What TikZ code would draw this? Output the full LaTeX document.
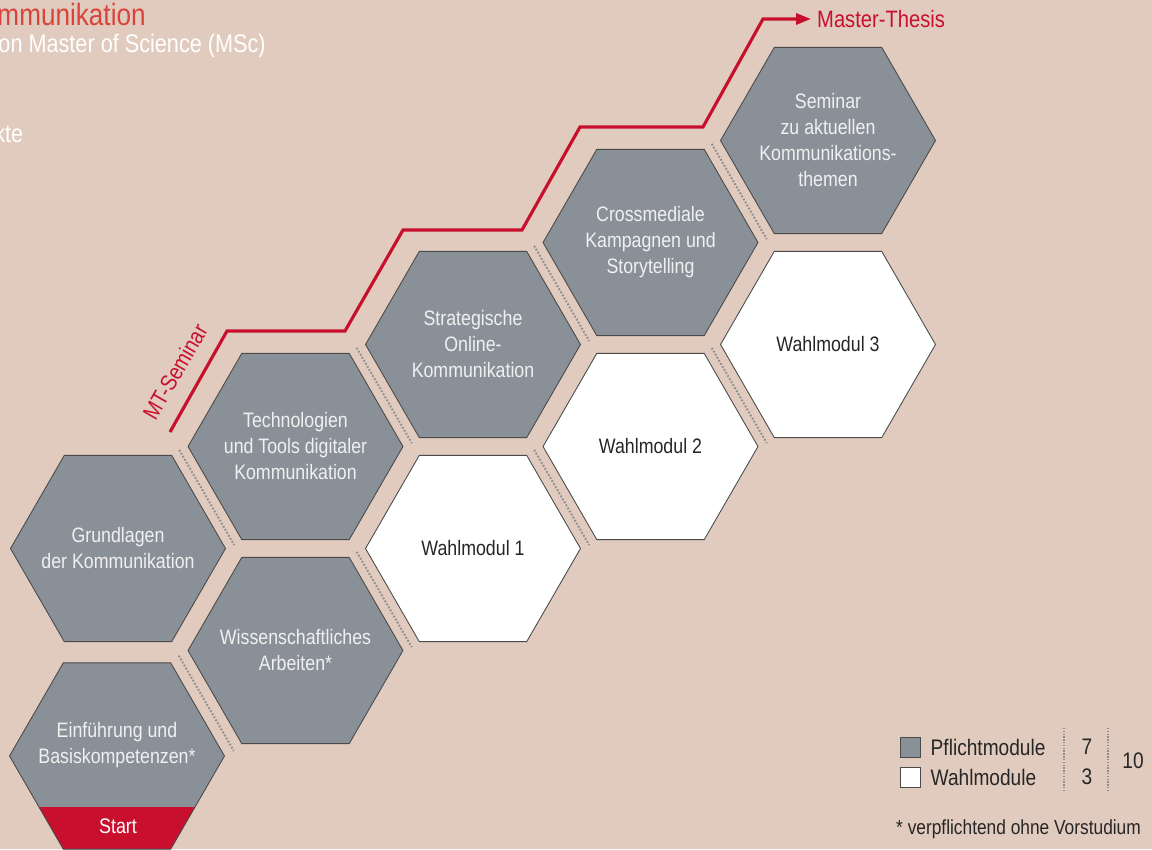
\documentclass[tikz,border=0pt]{standalone}
\usepackage{fontspec}
\setmainfont{Liberation Sans}[FakeStretch=0.85]
\usetikzlibrary{shapes.geometric,arrows.meta,calc}

\definecolor{bgbeige}{HTML}{E1CBBE}
\definecolor{modgray}{HTML}{8A9098}
\definecolor{hexline}{HTML}{4A4A4A}
\definecolor{thesisred}{HTML}{C8102E}
\definecolor{titlered}{HTML}{D8433B}
\definecolor{dotgray}{HTML}{8E8E8E}

\tikzset{
  hexmod/.style={regular polygon, regular polygon sides=6, minimum size=4.3cm,
    inner sep=-0.6cm, draw=hexline, line width=0.5pt, align=center,
    font=\fontsize{11.9}{14.8}\selectfont},
  pflicht/.style={hexmod, fill=modgray, text=white!94!black},
  wahl/.style={hexmod, fill=white, text=black!85},
  sepline/.style={dotgray, line width=1.1pt, dash pattern=on 1pt off 1pt},
  pathline/.style={thesisred, line width=1.8pt},
  keytext/.style={font=\fontsize{12.8}{15}\selectfont, text=black!85},
}

\begin{document}
\begin{tikzpicture}[x=0.02cm,y=0.02cm]
  \fill[bgbeige] (0,0) rectangle (1152,849);
  \useasboundingbox (0,0) rectangle (1152,849);

  % title block, cut off at the left edge
  \node[anchor=east, inner sep=0, text=titlered, font=\fontsize{17.5}{20}\selectfont] (title) at (146,834) {mmunikation};
  \node[anchor=east, inner sep=0, text=white, font=\fontsize{14.5}{17}\selectfont] (subtitle) at (266,803) {on Master of Science (MSc)};
  \node[anchor=east, inner sep=0, text=white, font=\fontsize{14.5}{17}\selectfont] (points) at (23.5,716) {kte};

  % modules
  \draw
    (118,300.5) node[pflicht] (grund){Grundlagen\\der Kommunikation}
    (295.5,402.5) node[pflicht] (tech){Technologien\\und Tools digitaler\\Kommunikation}
    (295.5,198.5) node[pflicht] (wiss){Wissenschaftliches\\Arbeiten*}
    (473,504.5) node[pflicht] (strat){Strategische\\Online-\\Kommunikation}
    (473,300.5) node[wahl] (wahlA){Wahlmodul 1}
    (650.5,606.5) node[pflicht] (cross){Crossmediale\\Kampagnen und\\Storytelling}
    (650.5,402.5) node[wahl] (wahlB){Wahlmodul 2}
    (828,708.5) node[pflicht] (sem){Seminar\\zu aktuellen\\Kommunikations-\\themen}
    (828,504.5) node[wahl] (wahlC){Wahlmodul 3};
  \node[pflicht, path picture={\fill[thesisred] ([yshift=-1.02cm]path picture bounding box.center) ++(-3cm,0) rectangle ++(6cm,-3cm);}] (einf) at (117,93) {};
  \node[align=center, text=white!94!black, font=\fontsize{11.9}{14.8}\selectfont] (einftext) at (117,104) {Einführung und\\Basiskompetenzen*};
  \node[text=white, font=\fontsize{12}{14}\selectfont] (start) at (118,23) {Start};

  \begin{scope}[sepline]
    \draw ($(grund)!0.5!(tech)+(120:55)$) to ($(grund)!0.5!(tech)+(300:55)$);
    \draw ($(einf)!0.5!(wiss)+(120:55)$) to ($(einf)!0.5!(wiss)+(300:55)$);
    \draw ($(tech)!0.5!(strat)+(120:55)$) to ($(tech)!0.5!(strat)+(300:55)$);
    \draw ($(wiss)!0.5!(wahlA)+(120:55)$) to ($(wiss)!0.5!(wahlA)+(300:55)$);
    \draw ($(strat)!0.5!(cross)+(120:55)$) to ($(strat)!0.5!(cross)+(300:55)$);
    \draw ($(wahlA)!0.5!(wahlB)+(120:55)$) to ($(wahlA)!0.5!(wahlB)+(300:55)$);
    \draw ($(cross)!0.5!(sem)+(120:55)$) to ($(cross)!0.5!(sem)+(300:55)$);
    \draw ($(wahlB)!0.5!(wahlC)+(120:55)$) to ($(wahlB)!0.5!(wahlC)+(300:55)$);
  \end{scope}

  % path to the thesis
  \node[anchor=west, text=thesisred, font=\fontsize{13.5}{16}\selectfont] (thesis) at (811,830) {Master-Thesis};
  \node[rotate=60, text=thesisred, font=\fontsize{13}{15}\selectfont] (mtlabel) at (175,477) {MT-Seminar};
  \coordinate (mtstart) at (170,417);
  \draw[pathline, -{Triangle[length=0.3cm,width=0.22cm]}]
    (mtstart) -- (227,518) -- (345,518) -- (403,619) -- (522,619)
    -- (580,722) -- (703,722) -- (763,830) -- (thesis.west);

  % legend
  \node[draw=hexline, fill=modgray, minimum size=0.4cm, inner sep=0] (keyp) at (910,102) {};
  \node[draw=hexline, fill=white, minimum size=0.4cm, inner sep=0] (keyw) at (910,72) {};
  \node[keytext, anchor=west] (keyptext) at (924.5,102) {Pflichtmodule};
  \node[keytext, anchor=west] (keywtext) at (924.5,72) {Wahlmodule};
  \node[keytext] (nump) at (1087,102) {7};
  \node[keytext] (numw) at (1087,72) {3};
  \node[keytext] (numall) at (1133,88) {10};
  \draw[dotgray, line width=0.8pt, dash pattern=on 0.8pt off 0.8pt] (1064,121) -- (1064,57);
  \draw[dotgray, line width=0.8pt, dash pattern=on 0.8pt off 0.8pt] (1108,121) -- (1108,57);
  \node[keytext, font=\fontsize{11.6}{14}\selectfont, anchor=west] (note) at (890,20) {* verpflichtend ohne Vorstudium};
\end{tikzpicture}
\end{document}
